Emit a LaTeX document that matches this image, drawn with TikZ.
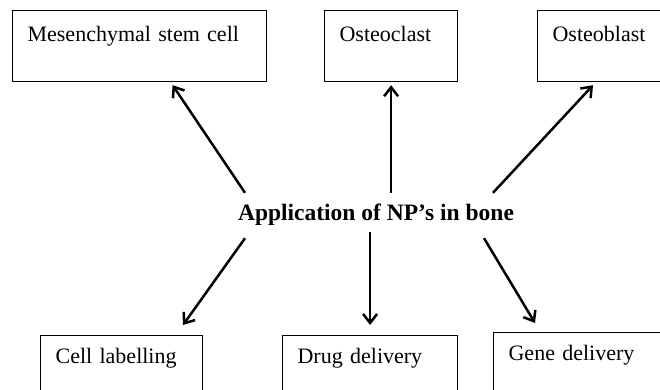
\documentclass[tikz,border=0pt]{standalone}
\usepackage{fontspec}
\setmainfont{Liberation Serif}
\usetikzlibrary{arrows.meta}
\begin{document}
\begin{tikzpicture}[x=1pt,y=-1pt,
		box/.style={draw, line width=1.2pt, anchor=north west, align=left, inner xsep=15pt, inner ysep=0pt,
			font=\fontsize{22}{26}\selectfont},
		topbox/.style={box, text height=31pt, text depth=40pt},
		lowbox/.style={box, text height=28pt, text depth=43pt},
		arr/.style={line width=2.5pt, -{Straight Barb[length=9pt,width=14pt,line width=2.5pt]}}]
		\useasboundingbox (0,0) rectangle (660,390);
		\clip (0,0) rectangle (660,390);
		% centre
		\node[anchor=base, inner sep=0pt, text height=27pt, text depth=12pt,
			font=\fontsize{23.5}{28}\selectfont\bfseries] (app) at (376,220) {Application of NP’s in bone};
		% upper row
		\node[topbox, text width=224pt] (mesen) at (12,10) {Mesenchymal stem cell};
		\node[topbox, text width=103pt] (oclast) at (324,10) {Osteoclast};
		\node[topbox, text width=110pt] (oblast) at (537,10) {Osteoblast};
		% lower row
		\node[lowbox, text width=132pt] (cell) at (40,335) {Cell labelling};
		\node[lowbox, text width=145pt] (drug) at (282,335) {Drug delivery};
		\node[lowbox, text width=150pt] (gene) at (493,332) {Gene delivery};
		% arrows
		\draw[arr] ([xshift=-131pt]app.north) -- ([shift={(33pt,-3pt)}]mesen.south);
		\draw[arr] (oclast.south |- app.north) -- ([yshift=-3pt]oclast.south);
		\draw[arr] ([xshift=117pt]app.north) -- ([shift={(56pt,-3pt)}]oblast.south west);
		\draw[arr] ([shift={(-131pt,-6pt)}]app.south) -- ([shift={(143pt,10pt)}]cell.north west);
		\draw[arr] (drug.north |- app.south) -- ([yshift=10pt]drug.north);
		\draw[arr] ([shift={(108pt,-6pt)}]app.south) -- ([shift={(42pt,9pt)}]gene.north west);
	\end{tikzpicture}
\end{document}
